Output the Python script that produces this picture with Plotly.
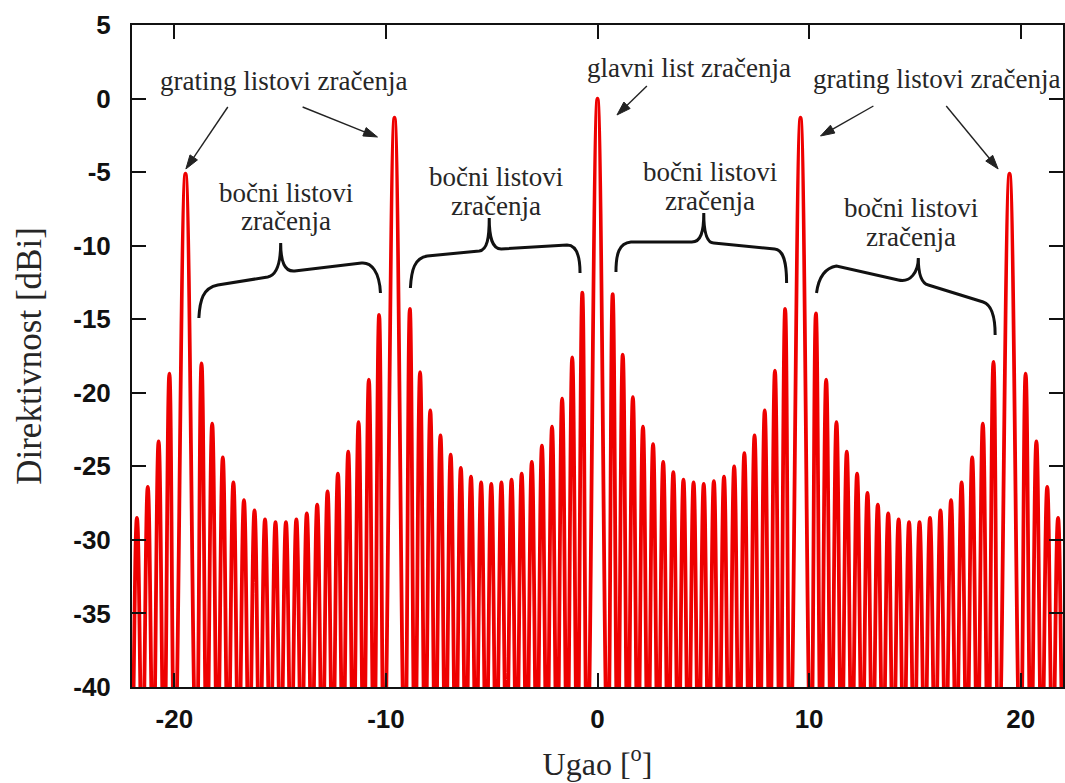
import math
import plotly.graph_objects as go

# ---------------- data ----------------
# angles (deg) of the pattern nulls, left to right
null_angle = [
    -22.540, -22.024, -21.510, -20.998, -20.487, -19.979,
    -18.966, -18.462, -17.959, -17.458, -16.958, -16.459, -15.962, -15.466, -14.971,
    -14.478, -13.985, -13.493, -13.003, -12.513, -12.025, -11.537, -11.050, -10.564, -10.079,
    -9.110, -8.627, -8.144, -7.662, -7.181, -6.700, -6.219, -5.739, -5.260,
    -4.780, -4.301, -3.823, -3.344, -2.866, -2.388, -1.910, -1.433, -0.955, -0.478,
    0.478, 0.955, 1.433, 1.910, 2.388, 2.866, 3.344, 3.823, 4.301,
    4.780, 5.260, 5.739, 6.219, 6.700, 7.181, 7.662, 8.144, 8.627, 9.110,
    10.079, 10.564, 11.050, 11.537, 12.025, 12.513, 13.003, 13.493, 13.985,
    14.478, 14.971, 15.466, 15.962, 16.459, 16.958, 17.458, 17.959, 18.462, 18.966,
    19.979, 20.487, 20.998, 21.510, 22.024, 22.540,
]

# peak level (dBi) of each lobe lying between two consecutive nulls
lobe_level = [
    -30.0, -28.5, -26.4, -23.3, -18.7,
    -5.1,
    -18.0, -22.1, -24.4, -26.1, -27.3, -28.0, -28.6, -28.8, -28.8,
    -28.6, -28.2, -27.6, -26.7, -25.5, -24.0, -22.0, -19.1, -14.7,
    -1.3,
    -14.3, -18.6, -21.2, -22.9, -24.2, -25.1, -25.7, -26.1, -26.2,
    -26.1, -25.9, -25.5, -24.7, -23.6, -22.3, -20.4, -17.6, -13.2,
    0.0,
    -13.3, -17.4, -20.3, -22.3, -23.5, -24.7, -25.4, -25.9, -26.1,
    -26.2, -26.0, -25.7, -25.0, -24.1, -22.9, -21.2, -18.5, -14.3,
    -1.3,
    -14.6, -19.1, -22.0, -24.0, -25.5, -26.8, -27.6, -28.2, -28.6,
    -28.8, -28.8, -28.5, -28.0, -27.3, -26.1, -24.4, -22.1, -17.9,
    -5.1,
    -18.7, -23.3, -26.4, -28.5, -30.0,
]

null_level = -45.0   # nulls fall below the -40 dBi floor of the axis

x_tick_values = [-20, -10, 0, 10, 20]
x_tick_labels = ["-20", "-10", "0", "10", "20"]
y_tick_values = [5, 0, -5, -10, -15, -20, -25, -30, -35, -40]
y_tick_labels = ["5", "0", "-5", "-10", "-15", "-20", "-25", "-30", "-35", "-40"]

# ---------------- build the curve ----------------
xs, ys = [], []
for i, lvl in enumerate(lobe_level):
    xs.append(null_angle[i]); ys.append(null_level)
    xs.append((null_angle[i] + null_angle[i + 1]) / 2); ys.append(lvl)
xs.append(null_angle[-1]); ys.append(null_level)

fig = go.Figure()
fig.add_trace(go.Scatter(
    x=xs, y=ys, mode="lines",
    line=dict(color="#ee0000", width=3.8, shape="spline", smoothing=1.3),
    showlegend=False, hoverinfo="skip",
))

W, H = 1065, 783
L, R, T, B = 132, 0, 25, 96
PW, PH = W - L - R, H - T - B


def px(xp):
    return (xp - L) / PW


def py(yp):
    return (H - B - yp) / PH


serif = "Liberation Serif, Times New Roman, serif"
txt_col = "#262626"
ann = []
shapes = []


def label(text, x, y, size=27):
    ann.append(dict(text=text, x=px(x), y=py(y), xref="paper", yref="paper",
                    showarrow=False, font=dict(family=serif, size=size, color=txt_col),
                    xanchor="center", yanchor="middle"))


def arrow(x0, y0, x1, y1, head=14, half=4.5):
    dx, dy = x1 - x0, y1 - y0
    d = math.hypot(dx, dy)
    ux, uy = dx / d, dy / d
    bx, by = x1 - ux * head, y1 - uy * head
    shapes.append(dict(type="line", xref="paper", yref="paper",
                       x0=px(x0), y0=py(y0), x1=px(bx + ux * 2), y1=py(by + uy * 2),
                       line=dict(color="#222222", width=1.4)))
    p1 = (bx - uy * half, by + ux * half)
    p2 = (bx + uy * half, by - ux * half)
    path = (f"M {px(x1):.5f},{py(y1):.5f} L {px(p1[0]):.5f},{py(p1[1]):.5f} "
            f"L {px(p2[0]):.5f},{py(p2[1]):.5f} Z")
    shapes.append(dict(type="path", path=path, xref="paper", yref="paper",
                       fillcolor="#222222", line=dict(color="#222222", width=1)))


label("grating listovi zračenja", 284, 81)
label("glavni list zračenja", 690, 68)
label("grating listovi zračenja", 938, 79)
label("bočni listovi", 286, 193)
label("zračenja", 286, 221)
label("bočni listovi", 497, 177)
label("zračenja", 497, 206)
label("bočni listovi", 711, 172)
label("zračenja", 711, 201)
label("bočni listovi", 913, 208)
label("zračenja", 913, 237)

arrow(228, 107, 186, 169)
arrow(303, 107, 378, 137)
arrow(648, 86, 618, 115)
arrow(875, 106, 822, 136)
arrow(948, 106, 1000, 169)

braces = [
    "M 199,318 C 200,300 203,288 218,285 L 268,277 C 278,275 281,262 281,243 "
    "C 281,262 285,272 295,271 L 362,263 C 372,262 380,272 381,293",
    "M 411,288 C 412,270 415,258 428,256 L 480,251 C 488,250 490,238 490,218 "
    "C 490,238 493,249 502,249 L 568,245 C 576,245 581,252 581,273",
    "M 617,272 C 617,254 620,243 632,242 L 693,242 C 702,242 705,232 705,213 "
    "C 705,232 708,243 715,243 L 776,249 C 785,250 788,262 788,283",
    "M 818,293 C 820,278 826,268 838,266 L 900,280 C 912,283 920,272 920,258 "
    "C 920,272 922,283 930,285 L 985,302 C 994,305 997,318 997,335",
]


def to_paper_path(p):
    out = []
    for tok in p.split():
        if "," in tok:
            a, b = tok.split(",")
            out.append(f"{px(float(a)):.5f},{py(float(b)):.5f}")
        else:
            out.append(tok)
    return " ".join(out)


shapes += [dict(type="path", path=to_paper_path(p), xref="paper", yref="paper",
                line=dict(color="#111111", width=3)) for p in braces]

tickfont = dict(family="Liberation Sans, Arial, sans-serif", size=26, color="#111111",
                weight="bold")

fig.update_layout(
    width=W, height=H, autosize=False,
    margin=dict(l=L, r=R, t=T, b=B, pad=0),
    paper_bgcolor="white", plot_bgcolor="white",
    annotations=ann, shapes=shapes,
    xaxis=dict(range=[-22, 22], tickvals=x_tick_values, ticktext=x_tick_labels,
               ticks="inside", ticklen=14, tickwidth=1.5, tickcolor="#111111",
               showline=True, linecolor="#111111", linewidth=2, mirror="ticks",
               showgrid=False, zeroline=False, tickfont=tickfont, ticklabelstandoff=8,
               title=dict(text="Ugao [<sup>o</sup>]",
                          font=dict(family=serif, size=32, color=txt_col), standoff=19)),
    yaxis=dict(range=[-40, 5], tickvals=y_tick_values, ticktext=y_tick_labels,
               ticks="inside", ticklen=14, tickwidth=1.5, tickcolor="#111111",
               showline=True, linecolor="#111111", linewidth=2, mirror="ticks",
               showgrid=False, zeroline=False, tickfont=tickfont, ticklabelstandoff=14,
               title=dict(text="Direktivnost [dBi]",
                          font=dict(family=serif, size=35, color=txt_col), standoff=21)),
)

fig.write_html("out.html")
